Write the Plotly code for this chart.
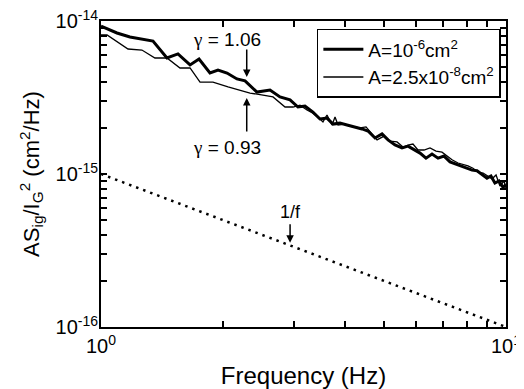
import plotly.graph_objects as go
import numpy as np

# Thick line: A = 1e-6 cm^2
freq_thick = [1.00, 1.095, 1.179, 1.270, 1.344, 1.455, 1.549, 1.659, 1.746, 1.858, 1.945, 2.047,
              2.166, 2.268, 2.427, 2.614, 2.767, 2.929, 3.064, 3.189, 3.337, 3.473, 3.614, 3.740,
              3.891, 4.050, 4.238, 4.411, 4.563, 4.749, 4.942, 5.113, 5.321, 5.537, 5.728, 5.927,
              6.134, 6.346, 6.566, 6.795, 7.031, 7.275, 7.527, 7.788, 8.013, 8.246, 8.48, 8.723,
              8.975, 9.18, 9.39, 9.61, 9.83, 10.0]
psd_thick_e15 = [9.27, 8.35, 7.86, 7.63, 7.40, 5.73, 6.09, 5.16, 5.64, 4.57, 4.78, 4.57,
                 4.18, 4.06, 3.43, 3.54, 3.19, 3.05, 2.74, 2.78, 2.54, 2.29, 2.32, 2.12,
                 2.15, 2.09, 2.03, 1.97, 1.91, 1.72, 1.83, 1.67, 1.55, 1.48, 1.52, 1.435,
                 1.37, 1.27, 1.35, 1.27, 1.31, 1.20, 1.16, 1.13, 1.09, 1.06, 1.05, 1.00,
                 0.94, 0.97, 0.873, 0.90, 0.82, 0.85]

# Thin line: A = 2.5e-8 cm^2
freq_thin = [1.00, 1.035, 1.166, 1.262, 1.359, 1.455, 1.567, 1.659, 1.756, 1.890, 2.059, 2.204,
             2.333, 2.512, 2.659, 2.847, 2.979, 3.100, 3.226, 3.337, 3.434, 3.532, 3.614, 3.719,
             3.783, 3.848, 4.004, 4.191, 4.361, 4.512, 4.615, 4.804, 4.999, 5.172, 5.382, 5.568,
             5.761, 5.892, 6.063, 6.274, 6.492, 6.717, 6.950, 7.148, 7.357, 7.612, 7.831, 8.056,
             8.288, 8.53, 8.78, 9.03, 9.24, 9.45, 9.66, 9.89, 10.0]
psd_thin_e15 = [8.10, 8.10, 6.56, 6.46, 5.73, 5.73, 4.93, 4.93, 3.99, 3.99, 3.71, 3.54,
                3.38, 3.28, 3.19, 2.74, 2.74, 2.82, 2.62, 2.50, 2.36, 2.19, 2.43, 2.09,
                2.36, 2.09, 2.12, 2.03, 2.00, 2.03, 1.88, 1.67, 1.77, 1.64, 1.62, 1.50,
                1.55, 1.57, 1.435, 1.435, 1.48, 1.41, 1.39, 1.31, 1.24, 1.18, 1.16, 1.13,
                1.09, 1.03, 1.015, 0.97, 0.93, 0.985, 0.835, 0.90, 0.81]

# 1/f reference line
freq_ref = [1.0, 10.0]
psd_ref = [1e-15, 1e-16]

x_ticks = [1, 2, 3, 4, 5, 6, 7, 8, 9, 10]
x_ticktext = ["10<sup>0</sup>", "", "", "", "", "", "", "", "", "10<sup>1</sup>"]
y_ticks = [1e-16, 2e-16, 3e-16, 4e-16, 5e-16, 6e-16, 7e-16, 8e-16, 9e-16,
           1e-15, 2e-15, 3e-15, 4e-15, 5e-15, 6e-15, 7e-15, 8e-15, 9e-15, 1e-14]
y_ticktext = ["10<sup>-16</sup>"] + [""] * 8 + ["10<sup>-15</sup>"] + [""] * 8 + ["10<sup>-14</sup>"]

FONT = "Liberation Sans, Arial, sans-serif"
GAMMA = '<span style="font-family:Liberation Serif, serif">γ</span>'

fig = go.Figure()
fig.add_trace(go.Scatter(x=freq_thick, y=[v * 1e-15 for v in psd_thick_e15], mode="lines",
                         line=dict(color="black", width=3),
                         name="A=10<sup>-6</sup>cm<sup>2</sup>"))
fig.add_trace(go.Scatter(x=freq_thin, y=[v * 1e-15 for v in psd_thin_e15], mode="lines",
                         line=dict(color="black", width=1.3),
                         name="A=2.5x10<sup>-8</sup>cm<sup>2</sup>"))
fig.add_trace(go.Scatter(x=freq_ref, y=psd_ref, mode="lines",
                         line=dict(color="black", width=2.5, dash="2.5px,5px"),
                         showlegend=False))

axis_common = dict(showline=True, linecolor="black", linewidth=2, mirror="ticks",
                   ticks="inside", ticklen=6, tickwidth=2, tickcolor="black",
                   showgrid=False, zeroline=False, automargin=False,
                   ticklabeloverflow="allow",
                   tickfont=dict(family=FONT, size=20, color="black"))

fig.update_xaxes(type="log", range=[0, 1], tickvals=x_ticks, ticktext=x_ticktext,
                 title=dict(text="Frequency (Hz)", font=dict(family=FONT, size=24, color="black"),
                            standoff=16),
                 **axis_common)
fig.update_yaxes(type="log", range=[-16, -14], tickvals=y_ticks, ticktext=y_ticktext,
                 ticklabelstandoff=-3,
                 title=dict(text="AS<sub>ig</sub>/I<sub>G</sub><sup>2</sup> (cm<sup>2</sup>/Hz)",
                            font=dict(family=FONT, size=22, color="black"), standoff=10),
                 **axis_common)

def lx(f):
    return float(np.log10(f))

ann = []
# gamma labels
ann.append(dict(x=lx(2.05), y=-14.118, xref="x", yref="y", text=GAMMA + " = 1.06", showarrow=False,
                font=dict(family=FONT, size=19, color="black")))
ann.append(dict(x=lx(2.05), y=-14.824, xref="x", yref="y", text=GAMMA + " = 0.93", showarrow=False,
                font=dict(family=FONT, size=19, color="black")))
ann.append(dict(x=lx(2.94), y=-15.25, xref="x", yref="y", text="1/f", showarrow=False,
                font=dict(family=FONT, size=18, color="black")))
# arrows
ann.append(dict(x=lx(2.29), y=-14.366, xref="x", yref="y", text="", showarrow=True,
                ax=0, ay=-29, arrowhead=2, arrowsize=1, arrowwidth=1.5, arrowcolor="black"))
ann.append(dict(x=lx(2.29), y=-14.503, xref="x", yref="y", text="", showarrow=True,
                ax=0, ay=35, arrowhead=2, arrowsize=1, arrowwidth=1.5, arrowcolor="black"))
ann.append(dict(x=lx(2.93), y=-15.45, xref="x", yref="y", text="", showarrow=True,
                ax=0, ay=-20, arrowhead=2, arrowsize=1, arrowwidth=1.5, arrowcolor="black"))

# the page body adds an 8px margin at top/left, so the figure is shifted by 8px
fig.update_layout(
    width=516, height=381,
    margin=dict(l=93, r=18, t=13, b=62),
    paper_bgcolor="white", plot_bgcolor="white",
    font=dict(family=FONT, color="black"),
    annotations=ann,
    legend=dict(x=0.533, y=0.974, xanchor="left", yanchor="top",
                bordercolor="black", borderwidth=1.5, bgcolor="white",
                font=dict(family=FONT, size=19, color="black"),
                tracegroupgap=0, itemwidth=40),
)

fig.write_html("out.html")
